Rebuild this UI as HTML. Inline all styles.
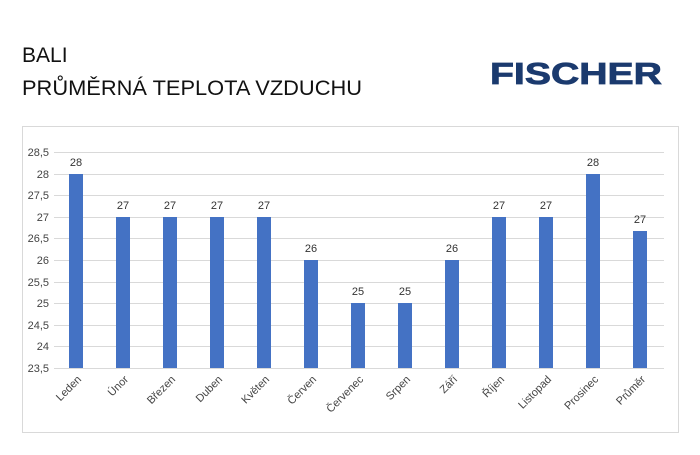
<!DOCTYPE html>
<html><head><meta charset="utf-8"><style>
body{margin:0;background:#fff;width:700px;height:450px;overflow:hidden;font-family:"Liberation Sans",sans-serif}
</style></head><body>
<svg width="700" height="450" xmlns="http://www.w3.org/2000/svg" font-family="Liberation Sans, sans-serif">
<text x="22" y="62" font-size="21" fill="#111">BALI</text>
<text x="22" y="95" font-size="21" fill="#111" textLength="340" lengthAdjust="spacingAndGlyphs">PRŮMĚRNÁ TEPLOTA VZDUCHU</text>
<text x="490" y="84" font-size="31" font-weight="bold" fill="#1b3a6e" stroke="#1b3a6e" stroke-width="0.8" textLength="172" lengthAdjust="spacingAndGlyphs">FISCHER</text>
<rect x="22.5" y="126.5" width="656" height="306" fill="none" stroke="#d9d9d9"/>
<g stroke="#d9d9d9" stroke-width="1">
<line x1="54" x2="664" y1="152.5" y2="152.5"/><line x1="54" x2="664" y1="174.5" y2="174.5"/>
<line x1="54" x2="664" y1="195.5" y2="195.5"/><line x1="54" x2="664" y1="217.5" y2="217.5"/>
<line x1="54" x2="664" y1="238.5" y2="238.5"/><line x1="54" x2="664" y1="260.5" y2="260.5"/>
<line x1="54" x2="664" y1="282.5" y2="282.5"/><line x1="54" x2="664" y1="303.5" y2="303.5"/>
<line x1="54" x2="664" y1="325.5" y2="325.5"/><line x1="54" x2="664" y1="346.5" y2="346.5"/>
<line x1="54" x2="664" y1="368.5" y2="368.5"/>
</g>
<g font-size="11" fill="#444" text-anchor="end">
<text x="49" y="156">28,5</text><text x="49" y="178">28</text><text x="49" y="199">27,5</text>
<text x="49" y="221">27</text><text x="49" y="242">26,5</text><text x="49" y="264">26</text>
<text x="49" y="286">25,5</text><text x="49" y="307">25</text><text x="49" y="329">24,5</text>
<text x="49" y="350">24</text><text x="49" y="372">23,5</text>
</g>
<g fill="#4472c4">
<rect x="69" y="174" width="14" height="194"/>
<rect x="116" y="217" width="14" height="151"/>
<rect x="163" y="217" width="14" height="151"/>
<rect x="210" y="217" width="14" height="151"/>
<rect x="257" y="217" width="14" height="151"/>
<rect x="304" y="260" width="14" height="108"/>
<rect x="351" y="303" width="14" height="65"/>
<rect x="398" y="303" width="14" height="65"/>
<rect x="445" y="260" width="14" height="108"/>
<rect x="492" y="217" width="14" height="151"/>
<rect x="539" y="217" width="14" height="151"/>
<rect x="586" y="174" width="14" height="194"/>
<rect x="633" y="231" width="14" height="137"/>
</g>
<g font-size="11" fill="#333" text-anchor="middle">
<text x="76" y="166">28</text><text x="123" y="209">27</text><text x="170" y="209">27</text>
<text x="217" y="209">27</text><text x="264" y="209">27</text><text x="311" y="252">26</text>
<text x="358" y="295">25</text><text x="405" y="295">25</text><text x="452" y="252">26</text>
<text x="499" y="209">27</text><text x="546" y="209">27</text><text x="593" y="166">28</text>
<text x="640" y="223">27</text>
</g>
<g font-size="11" fill="#444" text-anchor="end">
<text transform="translate(82,380) rotate(-45)">Leden</text>
<text transform="translate(129,380) rotate(-45)">Únor</text>
<text transform="translate(176,380) rotate(-45)">Březen</text>
<text transform="translate(223,380) rotate(-45)">Duben</text>
<text transform="translate(270,380) rotate(-45)">Květen</text>
<text transform="translate(317,380) rotate(-45)">Červen</text>
<text transform="translate(364,380) rotate(-45)">Červenec</text>
<text transform="translate(411,380) rotate(-45)">Srpen</text>
<text transform="translate(458,380) rotate(-45)">Září</text>
<text transform="translate(505,380) rotate(-45)">Říjen</text>
<text transform="translate(552,380) rotate(-45)">Listopad</text>
<text transform="translate(599,380) rotate(-45)">Prosinec</text>
<text transform="translate(646,380) rotate(-45)">Průměr</text>
</g>
</svg>
</body></html>
